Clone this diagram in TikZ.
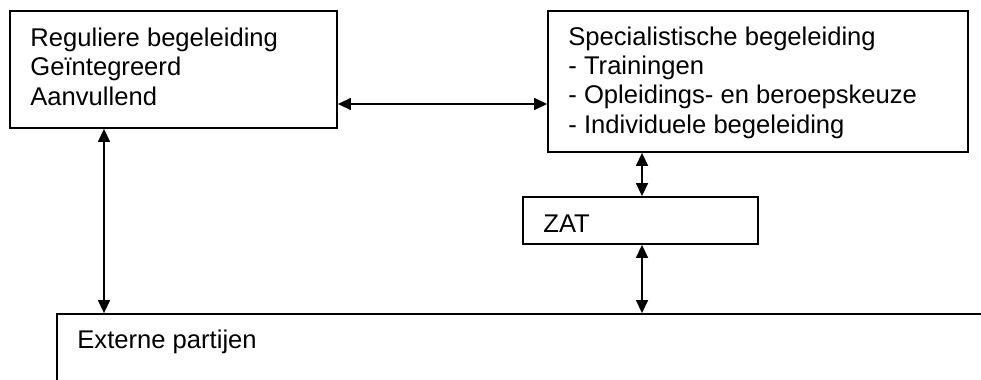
\documentclass[tikz,border=0pt]{standalone}
\usepackage{fontspec}
\setmainfont{Liberation Sans}
\usetikzlibrary{arrows.meta}
\begin{document}
\begin{tikzpicture}[x=0.5pt,y=-0.5pt,
  boxshape/.style={draw=black,line width=0.9pt,rectangle,inner sep=0pt},
  boxtext/.style={inner sep=0pt,anchor=base west,align=left,
    font=\fontsize{12.8pt}{14.65pt}\selectfont},
  arr/.style={line width=0.7pt,{Triangle[length=6.5pt,width=6pt]}-{Triangle[length=6.5pt,width=6pt]}}]
\useasboundingbox (0,0) rectangle (981,380);
\clip (0,0) rectangle (981,380);
\node[boxshape,minimum width=163.5pt,minimum height=58.5pt] (A) at (173.5,69.5) {};
\node[boxshape,minimum width=210pt,minimum height=70.5pt] (B) at (758,81.5) {};
\node[boxshape,minimum width=117.5pt,minimum height=23.5pt] (Z) at (640.5,220.5) {};
\node[boxshape,minimum width=471.5pt,minimum height=43pt] (E) at (528.5,357) {};
\node[boxtext] (At) at (30,105) {Reguliere begeleiding\\Geïntegreerd\\Aanvullend};
\node[boxtext] (Bt) at (568,133) {Specialistische begeleiding\\- Trainingen\\- Opleidings- en beroepskeuze\\- Individuele begeleiding};
\node[boxtext] (Zt) at (543,232) {ZAT};
\node[boxtext] (Et) at (77,348) {Externe partijen};
\coordinate (hy) at (0,104);
\coordinate (v1) at (104,0);
\coordinate (v2) at (642,0);
\draw[arr] (A.east |- hy) -- (B.west |- hy);
\draw[arr] (A.south -| v1) -- (E.north -| v1);
\draw[arr] (B.south -| v2) -- (Z.north -| v2);
\draw[arr] (Z.south -| v2) -- (E.north -| v2);
\end{tikzpicture}
\end{document}
